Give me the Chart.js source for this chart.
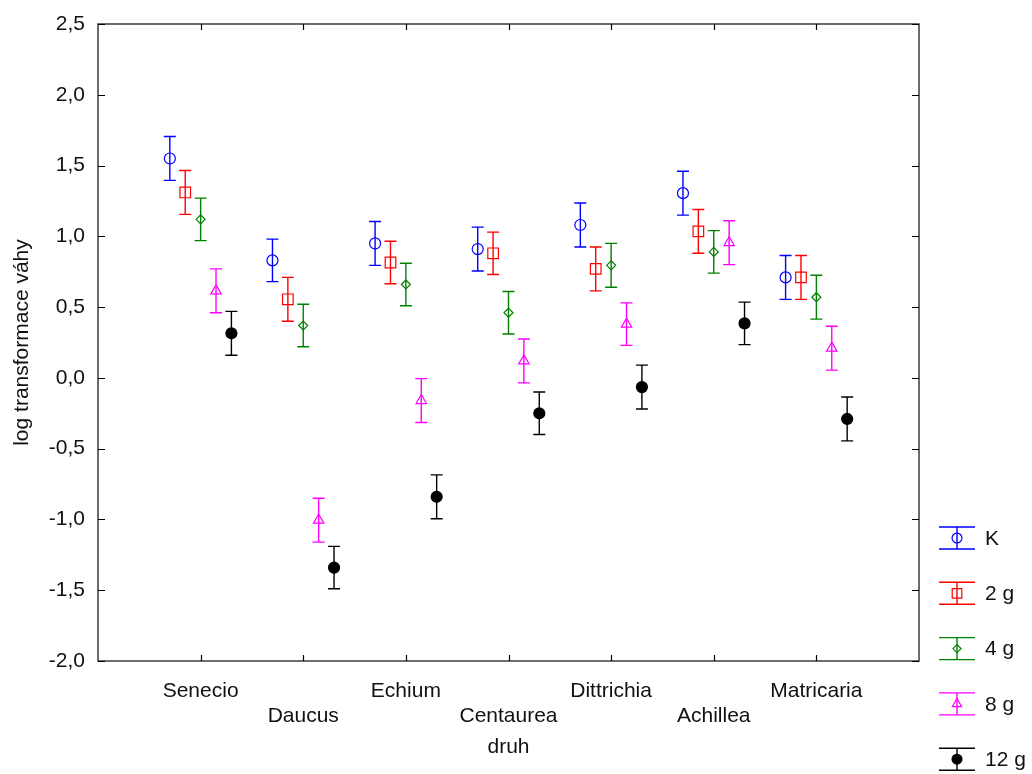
<!DOCTYPE html>
<html>
<head>
<meta charset="utf-8">
<script src="https://cdn.jsdelivr.net/npm/chart.js@4.4.1/dist/chart.umd.min.js"></script>
<style>
    html, body { margin: 0; padding: 0; background: #fff; }
</style>
</head>
<body>
<canvas id="chart" width="1032" height="774"></canvas>
<script>
// ========== DATA ==========
const categories = ['Senecio', 'Daucus', 'Echium', 'Centaurea', 'Dittrichia', 'Achillea', 'Matricaria'];
const seriesNames = ['K', '2 g', '4 g', '8 g', '12 g'];

const valuesK   = [1.55, 0.83, 0.95, 0.91, 1.08, 1.305, 0.71];
const values2g  = [1.31, 0.555, 0.815, 0.88, 0.77, 1.035, 0.71];
const values4g  = [1.12, 0.37, 0.66, 0.46, 0.795, 0.89, 0.57];
const values8g  = [0.615, -1.005, -0.16, 0.12, 0.38, 0.955, 0.21];
const values12g = [0.315, -1.34, -0.84, -0.25, -0.065, 0.385, -0.29];

const errK   = [0.155, 0.15, 0.155, 0.155, 0.155, 0.155, 0.155];
const err2g  = [0.155, 0.155, 0.15, 0.15, 0.155, 0.155, 0.155];
const err4g  = [0.15, 0.15, 0.15, 0.15, 0.155, 0.15, 0.155];
const err8g  = [0.155, 0.155, 0.155, 0.155, 0.15, 0.155, 0.155];
const err12g = [0.155, 0.15, 0.155, 0.15, 0.155, 0.15, 0.155];

const yTicks = [-2.0, -1.5, -1.0, -0.5, 0.0, 0.5, 1.0, 1.5, 2.0, 2.5];

// ========== STYLES ==========
const seriesValues = [valuesK, values2g, values4g, values8g, values12g];
const seriesErrors = [errK, err2g, err4g, err8g, err12g];
const seriesColors = ['#0000ff', '#ff0000', '#008000', '#ff00ff', '#000000'];
const seriesStyles = ['circle', 'rect', 'rectRot', 'triangle', 'circle'];
const seriesRadius = [5.5, 7.5, 4.5, 6, 5.5];
const seriesFilled = [false, false, false, false, true];
const dodge = [-0.3, -0.15, 0, 0.15, 0.3];

const textColor = '#111';
const fontFamily = '"Liberation Sans", Arial, sans-serif';
Chart.defaults.font.family = fontFamily;
Chart.defaults.color = textColor;

const datasets = seriesNames.map((name, i) => ({
    label: name,
    data: categories.map((c, j) => ({ x: j + 1 + dodge[i], y: seriesValues[i][j] })),
    errors: seriesErrors[i],
    showLine: false,
    pointStyle: seriesStyles[i],
    pointRadius: seriesRadius[i],
    pointBorderWidth: 1.2,
    borderColor: seriesColors[i],
    backgroundColor: seriesFilled[i] ? seriesColors[i] : 'rgba(0,0,0,0)'
}));

// ========== PLUGINS ==========
const errorBars = {
    id: 'errorBars',
    beforeDatasetsDraw(chart) {
        const ctx = chart.ctx;
        const y = chart.scales.y;
        chart.data.datasets.forEach((ds, i) => {
            const meta = chart.getDatasetMeta(i);
            ctx.save();
            ctx.strokeStyle = ds.borderColor;
            ctx.lineWidth = 1.4;
            ctx.beginPath();
            meta.data.forEach((pt, j) => {
                const v = ds.data[j].y;
                const e = ds.errors[j];
                const top = y.getPixelForValue(v + e);
                const bot = y.getPixelForValue(v - e);
                ctx.moveTo(pt.x, top);
                ctx.lineTo(pt.x, bot);
                ctx.moveTo(pt.x - 6, top);
                ctx.lineTo(pt.x + 6, top);
                ctx.moveTo(pt.x - 6, bot);
                ctx.lineTo(pt.x + 6, bot);
            });
            ctx.stroke();
            ctx.restore();
        });
    }
};

const frame = {
    id: 'frame',
    beforeDatasetsDraw(chart) {
        const { ctx, chartArea: a, scales: { x, y } } = chart;
        ctx.save();
        ctx.strokeStyle = '#3c3c3c';
        ctx.lineWidth = 1.5;
        ctx.strokeRect(a.left, a.top, a.right - a.left, a.bottom - a.top);
        ctx.strokeStyle = '#000';
        ctx.lineWidth = 1.2;
        ctx.beginPath();
        x.ticks.forEach(t => {
            const px = Math.round(x.getPixelForValue(t.value)) + 0.5;
            ctx.moveTo(px, a.bottom); ctx.lineTo(px, a.bottom - 6);
            ctx.moveTo(px, a.top); ctx.lineTo(px, a.top + 6);
        });
        y.ticks.forEach(t => {
            const py = Math.round(y.getPixelForValue(t.value)) + 0.5;
            ctx.moveTo(a.left, py); ctx.lineTo(a.left + 7, py);
            ctx.moveTo(a.right, py); ctx.lineTo(a.right - 7, py);
        });
        ctx.stroke();
        ctx.restore();
    }
};

const legendBox = {
    id: 'legendBox',
    afterDraw(chart) {
        const ctx = chart.ctx;
        const cx = chart.chartArea.right + 38;
        chart.data.datasets.forEach((ds, i) => {
            const cy = 538 + i * 55.3;
            ctx.save();
            ctx.strokeStyle = ds.borderColor;
            ctx.lineWidth = 1.4;
            ctx.beginPath();
            ctx.moveTo(cx - 18, cy - 11); ctx.lineTo(cx + 18, cy - 11);
            ctx.moveTo(cx - 18, cy + 11); ctx.lineTo(cx + 18, cy + 11);
            ctx.moveTo(cx, cy - 11); ctx.lineTo(cx, cy + 11);
            ctx.stroke();
            ctx.fillStyle = ds.backgroundColor;
            ctx.lineWidth = 1.2;
            Chart.helpers.drawPoint(ctx, {
                pointStyle: ds.pointStyle,
                radius: ds.pointRadius * 0.9,
                rotation: 0,
                borderWidth: 1.2
            }, cx, cy);
            ctx.fillStyle = textColor;
            ctx.font = '21px ' + fontFamily;
            ctx.textAlign = 'left';
            ctx.textBaseline = 'middle';
            ctx.fillText(ds.label, cx + 28, cy + 1);
            ctx.restore();
        });
    }
};

// ========== CHART ==========
new Chart(document.getElementById('chart'), {
    type: 'scatter',
    data: { datasets: datasets },
    options: {
        responsive: false,
        animation: false,
        devicePixelRatio: 1,
        layout: { padding: { left: 0, right: 113, top: 24, bottom: 0 } },
        plugins: {
            legend: { display: false },
            tooltip: { enabled: false }
        },
        scales: {
            x: {
                type: 'linear',
                min: 0,
                max: 8,
                grid: { display: false },
                border: { display: false },
                afterBuildTicks: s => { s.ticks = categories.map((c, i) => ({ value: i + 1 })); },
                ticks: {
                    autoSkip: false,
                    maxRotation: 0,
                    padding: 10,
                    font: { size: 21, lineHeight: 1.18 },
                    callback: (v, i) => i % 2 ? ['', categories[i]] : categories[i]
                },
                title: {
                    display: true,
                    text: 'druh',
                    font: { size: 21 },
                    padding: { top: 0, bottom: 14 }
                },
                afterFit: s => { s.height = 113; }
            },
            y: {
                min: -2,
                max: 2.5,
                grid: { display: false },
                border: { display: false },
                afterBuildTicks: s => { s.ticks = yTicks.map(v => ({ value: v })); },
                ticks: {
                    padding: 5,
                    font: { size: 21 },
                    callback: v => v.toFixed(1).replace('.', ',')
                },
                title: {
                    display: true,
                    text: 'log transformace váhy',
                    font: { size: 21 },
                    padding: { top: 10, bottom: 0 }
                },
                afterFit: s => { s.width = 98; }
            }
        }
    },
    plugins: [frame, errorBars, legendBox]
});
</script>
</body>
</html>
